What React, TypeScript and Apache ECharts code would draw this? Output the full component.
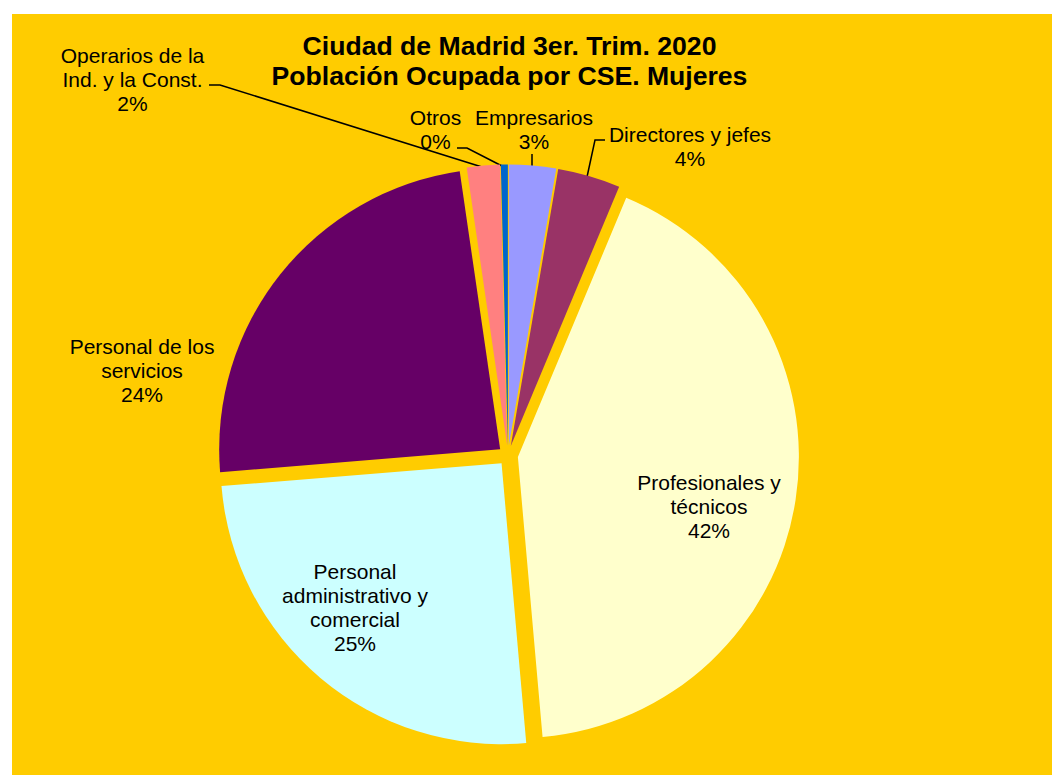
import React, { useEffect, useRef } from "react";
import * as echarts from "echarts";

// ---- Data ----
const categories = [
  "Empresarios",
  "Directores y jefes",
  "Profesionales y\ntécnicos",
  "Personal\nadministrativo y\ncomercial",
  "Personal de los\nservicios",
  "Operarios de la\nInd. y la Const.",
  "Otros",
];
const values = [2.7, 3.6, 42.3, 25.1, 24.0, 1.9, 0.4];
const colors = ["#9999FF", "#993366", "#FFFFCC", "#CCFFFF", "#660066", "#FF8080", "#0066CC"];
const titleLines = ["Ciudad de Madrid 3er. Trim. 2020", "Población Ocupada por CSE. Mujeres"];

// ---- Layout (label placement, chart-local pixels) ----
const labelPos: number[][] = [
  [522, 115],
  [678, 132],
  [697, 492.5],
  [343, 593],
  [130, 356],
  [120.5, 65.5],
  [423.5, 115],
];
const leaderLines: (number[][] | null)[] = [
  [[520, 140], [520, 153]],
  [[593, 126], [583, 126], [575, 163]],
  null,
  null,
  null,
  [[197, 71], [208, 71], [470, 153]],
  [[445, 134], [455, 134], [490, 152]],
];

const FONT = "'Liberation Sans', Arial, Helvetica, sans-serif";
const CENTER = [496, 441.5];
const RADIUS = 281;

export default function App() {
  const ref = useRef<HTMLDivElement>(null);
  useEffect(() => {
    if (!ref.current) return;
    const chart = echarts.init(ref.current, null, { renderer: "svg" });
    chart.setOption({
      animation: false,
      backgroundColor: "#FFCC00",
      graphic: [
        {
          type: "text",
          x: 497.5,
          y: 16.5,
          silent: true,
          style: {
            text: titleLines.join("\n"),
            align: "center",
            verticalAlign: "top",
            fontFamily: FONT,
            fontWeight: "bold",
            fontSize: 26.6,
            lineHeight: 30,
            fill: "#000",
          },
        },
      ],
      series: [
        {
          type: "pie",
          center: CENTER,
          radius: RADIUS,
          startAngle: 90,
          clockwise: true,
          selectedMode: "multiple",
          selectedOffset: 10,
          silent: true,
          avoidLabelOverlap: false,
          label: { show: false },
          labelLine: { show: false },
          emphasis: { disabled: true },
          itemStyle: { borderWidth: 0 },
          data: values.map((v, i) => ({
            name: categories[i],
            value: v,
            selected: true,
            itemStyle: { color: colors[i], borderWidth: 0 },
            select: { itemStyle: { color: colors[i], borderWidth: 0 } },
          })),
        },
        {
          type: "pie",
          center: CENTER,
          radius: RADIUS,
          startAngle: 90,
          clockwise: true,
          selectedMode: false,
          silent: true,
          avoidLabelOverlap: false,
          emphasis: { disabled: true },
          itemStyle: { color: "rgba(0,0,0,0)", borderWidth: 0 },
          label: {
            show: true,
            color: "#000",
            fontFamily: FONT,
            fontSize: 21,
            lineHeight: 24,
            overflow: "none",
            formatter: (p: any) => p.name + "\n" + Math.round(p.percent) + "%",
          },
          labelLine: { show: true, lineStyle: { color: "#000", width: 1.5 } },
          labelLayout: (p: any) => {
            const pos = labelPos[p.dataIndex];
            const pts = leaderLines[p.dataIndex];
            const o: any = { x: pos[0], y: pos[1], align: "center", verticalAlign: "middle" };
            if (pts) o.labelLinePoints = pts;
            return o;
          },
          data: values.map((v, i) => ({
            name: categories[i],
            value: v,
            label: { position: leaderLines[i] ? "outside" : "inside" },
            labelLine: { show: !!leaderLines[i] },
          })),
        },
      ],
    });
    return () => chart.dispose();
  }, []);
  return (
    <div style={{ position: "absolute", left: 0, top: 0, width: 1052, height: 775, background: "#fff" }}>
      <div ref={ref} style={{ position: "absolute", left: 12, top: 14, width: 1040, height: 761 }} />
    </div>
  );
}
